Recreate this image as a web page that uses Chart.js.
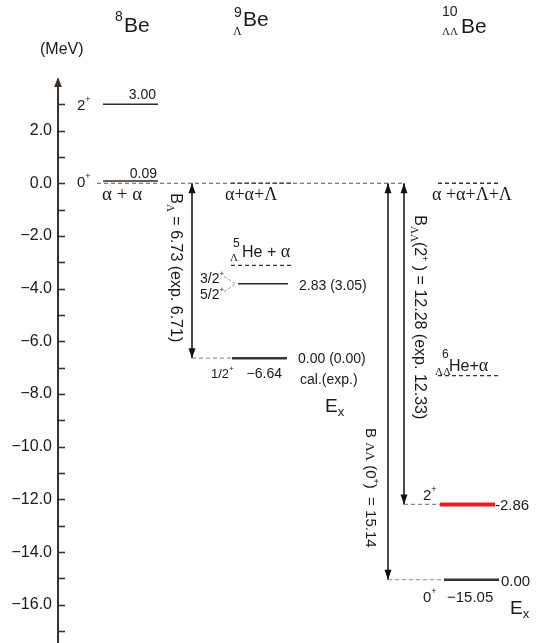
<!DOCTYPE html>
<html><head><meta charset="utf-8">
<script src="https://cdn.jsdelivr.net/npm/chart.js@4.4.1/dist/chart.umd.min.js"></script>
<style>html,body{margin:0;padding:0;background:#fff;}canvas{display:block;}</style>
</head><body>
<div style="width:548px;height:643px"><canvas id="c" width="548" height="643"></canvas></div>
<script>
// ---------------- data (MeV) ----------------
const nuclei = ['8Be', '9ΛBe', '10ΛΛBe'];
const axisTickValues = [-17,-16,-15,-14,-13,-12,-11,-10,-9,-8,-7,-6,-5,-4,-3,-2,-1,0,1,2,3];
const axisLabelValues = [-16,-14,-12,-10,-8,-6,-4,-2,0,2];
const be8Energy = [3.00, 0.09];
const be8Jpi = ['2', '0'];
const be8Ex = ['3.00', '0.09'];
const thresholdEnergy = [0.0, -3.12, -7.30];      // α+α(+Λ(+Λ)), 5ΛHe+α, 6ΛΛHe+α
const be9Energy = [-6.64, -3.81];                 // 1/2+, 3/2+ 5/2+
const be9ExCal = ['0.00', '2.83'];
const be9ExExp = ['0.00', '3.05'];
const be10Energy = [-15.05, -12.19];              // 0+, 2+
const be10Jpi = ['0', '2'];
const be10Ex = ['0.00', '2.86'];
const bindingCal = ['6.73', '12.28', '15.14'];
const bindingExp = ['6.71', '12.33', ''];

// ---------------- layout (x units to the right of the energy axis) ----------------
const L = {
  be8Level: [45, 100], zeroLine: [39, 347],
  be9Thr: [173, 235], be9Arrow: 134, be9Ground: [174, 229], be9Exc: [180, 230],
  be10ArrowG: 330, be10ArrowE: 346, be10Thr: [380, 441],
  be10Exc: [382, 437], be10Ground: [386, 441]
};
const SANS = '"Liberation Sans", Arial, sans-serif';
const SERIF = '"Liberation Serif", "Times New Roman", serif';
const DARK = '#2e2a28';

function seg(xr, y, color, width, dash) {
  return { data: [{x: xr[0], y: y}, {x: xr[1], y: y}], borderColor: color, borderWidth: width,
           borderDash: dash || [], pointRadius: 0, fill: false };
}
function vseg(x, y0, y1) {
  return { data: [{x: x, y: y0}, {x: x, y: y1}], borderColor: '#111', borderWidth: 1.5,
           pointRadius: 0, fill: false };
}
const dashThr = [4, 3];
const datasets = [];
be8Energy.forEach(e => datasets.push(seg(L.be8Level, e, DARK, 1.5)));
datasets.push(seg(L.zeroLine, thresholdEnergy[0], '#6e4d45', 1.1, [4, 3]));
datasets.push(seg(L.be9Thr, thresholdEnergy[0], '#444', 1.3, dashThr));
datasets.push(seg(L.be9Thr, thresholdEnergy[1], '#333', 1.3, dashThr));
datasets.push(seg(L.be10Thr, thresholdEnergy[0], '#333', 1.3, dashThr));
datasets.push(seg(L.be10Thr, thresholdEnergy[2], '#333', 1.3, dashThr));
datasets.push(seg([L.be9Arrow, L.be9Ground[0]], be9Energy[0], '#9a9a9a', 1.3, [4, 3]));
datasets.push(seg(L.be9Ground, be9Energy[0], '#3d3836', 2.5));
datasets.push(seg(L.be9Exc, be9Energy[1], DARK, 1.5));
datasets.push(seg([L.be10ArrowG, L.be10Ground[0]], be10Energy[0], '#8a8a8a', 1.2, [4, 3]));
datasets.push(seg(L.be10Ground, be10Energy[0], '#333', 2.5));
datasets.push(seg([L.be10ArrowE, L.be10Exc[0]], be10Energy[1], '#8a8a8a', 1.2, [4, 3]));
datasets.push(seg(L.be10Exc, be10Energy[1], '#ee1c24', 4));
const arrows = [
  [L.be9Arrow, thresholdEnergy[0], be9Energy[0]],
  [L.be10ArrowG, thresholdEnergy[0], be10Energy[0]],
  [L.be10ArrowE, thresholdEnergy[0], be10Energy[1]]
];
arrows.forEach(a => datasets.push(vseg(a[0], a[1], a[2])));

function rich(ctx, x, y, parts, align) {
  let w = 0;
  const ms = parts.map(p => { ctx.font = p[1] + 'px ' + (p[3] || SANS); const m = ctx.measureText(p[0]).width; w += m; return m; });
  let cx = align === 'right' ? x - w : (align === 'center' ? x - w / 2 : x);
  parts.forEach((p, i) => { ctx.font = p[1] + 'px ' + (p[3] || SANS); ctx.fillText(p[0], cx, y + (p[2] || 0)); cx += ms[i]; });
}
function rotText(ctx, x, y, parts) {
  ctx.save(); ctx.translate(x, y); ctx.rotate(Math.PI / 2);
  rich(ctx, 0, 5, parts, 'left'); ctx.restore();
}
// up = true: arrow pointing up with tip at tipY
function tri(ctx, x, tipY, up, hw, h) {
  const b = up ? tipY + h : tipY - h;
  ctx.beginPath(); ctx.moveTo(x, tipY); ctx.lineTo(x - hw, b); ctx.lineTo(x + hw, b); ctx.closePath(); ctx.fill();
}

const annotate = {
  id: 'annotate',
  afterDatasetsDraw(chart) {
    const ctx = chart.ctx, xs = chart.scales.x, ys = chart.scales.y;
    const X = v => xs.getPixelForValue(v), Y = v => ys.getPixelForValue(v);
    const ax = chart.chartArea.left;
    ctx.save();
    ctx.strokeStyle = '#3a302c'; ctx.lineWidth = 1.6;
    axisTickValues.forEach(v => { const y = Math.round(Y(v)) + 0.5; ctx.beginPath(); ctx.moveTo(ax, y); ctx.lineTo(ax + 7, y); ctx.stroke(); });
    ctx.fillStyle = '#3a302c';
    tri(ctx, ax, chart.chartArea.top - 3, true, 3.8, 10);
    ctx.fillStyle = '#111';
    arrows.forEach(a => { tri(ctx, X(a[0]), Y(a[1]), true, 3.5, 10); tri(ctx, X(a[0]), Y(a[2]), false, 3.5, 10); });

    ctx.fillStyle = '#1a1a1a'; ctx.textBaseline = 'alphabetic';
    // headers
    rich(ctx, 115, 21, [['8', 14]]); rich(ctx, 124, 32, [['Be', 21]]);
    rich(ctx, 234, 17, [['9', 14]]); rich(ctx, 233, 35, [['Λ', 12, 0, SERIF]]); rich(ctx, 243, 26, [['Be', 21]]);
    rich(ctx, 442, 16, [['10', 14]]); rich(ctx, 442, 35, [['ΛΛ', 11, 0, SERIF]]); rich(ctx, 461, 33, [['Be', 21]]);
    rich(ctx, 40, 54, [['(MeV)', 16]]);

    // 8Be
    rich(ctx, X(L.be8Level[1]) - 2, Y(be8Energy[0]) - 5, [[be8Ex[0], 14]], 'right');
    rich(ctx, X(L.be8Level[1]) - 1, Y(be8Energy[1]) - 3, [[be8Ex[1], 14]], 'right');
    be8Energy.forEach((e, i) => rich(ctx, 77, Y(e) + 6, [[be8Jpi[i], 15], ['+', 9, -8]]));
    rich(ctx, 102, Y(thresholdEnergy[0]) + 17, [['α + α', 19, 0, SERIF]]);

    // 9Be
    rich(ctx, 225, Y(thresholdEnergy[0]) + 17, [['α+α+Λ', 18, 0, SERIF]]);
    const t1 = Y(thresholdEnergy[1]);
    rich(ctx, 233, t1 - 18, [['5', 12]]); rich(ctx, 230, t1 - 4, [['Λ', 11, 0, SERIF]]);
    rich(ctx, 242, t1 - 8, [['He + ', 16], ['α', 18, 0, SERIF]]);
    const e1 = Y(be9Energy[1]);
    rich(ctx, 200, e1 - 1, [['3/2', 14], ['+', 8, -7]]);
    rich(ctx, 200, e1 + 15, [['5/2', 14], ['+', 8, -7]]);
    ctx.strokeStyle = '#999'; ctx.lineWidth = 1; ctx.setLineDash([3, 2]);
    ctx.beginPath(); ctx.moveTo(224, e1 - 7); ctx.lineTo(X(L.be9Exc[0]) - 2, e1);
    ctx.moveTo(224, e1 + 8); ctx.lineTo(X(L.be9Exc[0]) - 2, e1); ctx.stroke(); ctx.setLineDash([]);
    rich(ctx, 299, e1 + 6, [[be9ExCal[1] + ' (' + be9ExExp[1] + ')', 14]]);
    const g9 = Y(be9Energy[0]);
    rich(ctx, 298, g9 + 5, [[be9ExCal[0] + ' (' + be9ExExp[0] + ')', 14]]);
    rich(ctx, 300, g9 + 26, [['cal.(exp.)', 14]]);
    rich(ctx, 325, g9 + 54, [['E', 19], ['x', 13, 4]]);
    rich(ctx, 211, g9 + 20, [['1/2', 13], ['+', 8, -7]]);
    rich(ctx, 282, g9 + 20, [['\u2212' + Math.abs(be9Energy[0]).toFixed(2), 14]], 'right');
    rotText(ctx, 176, Y(0) + 10, [['B', 16], ['Λ', 11, 4, SERIF], [' = ' + bindingCal[0] + ' (exp. ' + bindingExp[0] + ')', 16]]);

    // 10Be
    rich(ctx, 432, Y(thresholdEnergy[0]) + 17, [['α +α+Λ+Λ', 18, 0, SERIF]]);
    const t2 = Y(thresholdEnergy[2]);
    rich(ctx, 442, t2 - 18, [['6', 12]]); rich(ctx, 435, t2 - 1, [['ΛΛ', 11, 0, SERIF]]);
    rich(ctx, 449, t2 - 5, [['He+', 16], ['α', 18, 0, SERIF]]);
    rotText(ctx, 420, Y(0) + 32, [['B', 16], ['ΛΛ', 11, 4, SERIF], ['(2', 16], ['+', 9, -7], [' ) = ' + bindingCal[1] + ' (exp. ' + bindingExp[1] + ')', 16]]);
    rotText(ctx, 371, 428, [['B ', 15], ['ΛΛ', 13, 0, SERIF], [' (0', 15], ['+', 9, -7], [')  = ' + bindingCal[2], 15]]);
    const e10 = Y(be10Energy[1]), g10 = Y(be10Energy[0]);
    rich(ctx, 423, e10 - 4, [[be10Jpi[1], 15], ['+', 9, -8]]);
    rich(ctx, 495, e10 + 6, [['-' + be10Ex[1], 15]]);
    rich(ctx, 501, g10 + 6, [[be10Ex[0], 15]]);
    rich(ctx, 423, g10 + 22, [[be10Jpi[0], 15], ['+', 9, -8]]);
    rich(ctx, 447, g10 + 22, [['\u2212' + Math.abs(be10Energy[0]).toFixed(2), 15]]);
    rich(ctx, 510, g10 + 34, [['E', 19], ['x', 13, 4]]);
    ctx.restore();
  }
};

new Chart(document.getElementById('c'), {
  type: 'line',
  data: { datasets: datasets },
  options: {
    responsive: false, animation: false, events: [],
    layout: { padding: { top: 80, right: 0, bottom: 0, left: 0 } },
    plugins: { legend: { display: false }, tooltip: { enabled: false } },
    scales: {
      x: { type: 'linear', display: false, min: 0, max: 490 },
      y: {
        type: 'linear', min: -17.45, max: 3.92,
        afterFit: s => { s.width = 58; s.paddingTop = 0; s.paddingBottom = 0; },
        afterBuildTicks: s => { s.ticks = axisTickValues.map(v => ({ value: v })); },
        grid: { display: false, drawTicks: false, tickLength: 0 },
        border: { display: true, color: '#3a302c', width: 2 },
        ticks: {
          autoSkip: false, padding: 6, color: '#1a1a1a',
          font: { family: SANS, size: 16 },
          callback: v => axisLabelValues.includes(v) ? (v < 0 ? '\u2212' + Math.abs(v).toFixed(1) : v.toFixed(1)) : ''
        }
      }
    }
  },
  plugins: [annotate]
});
</script>
</body></html>
